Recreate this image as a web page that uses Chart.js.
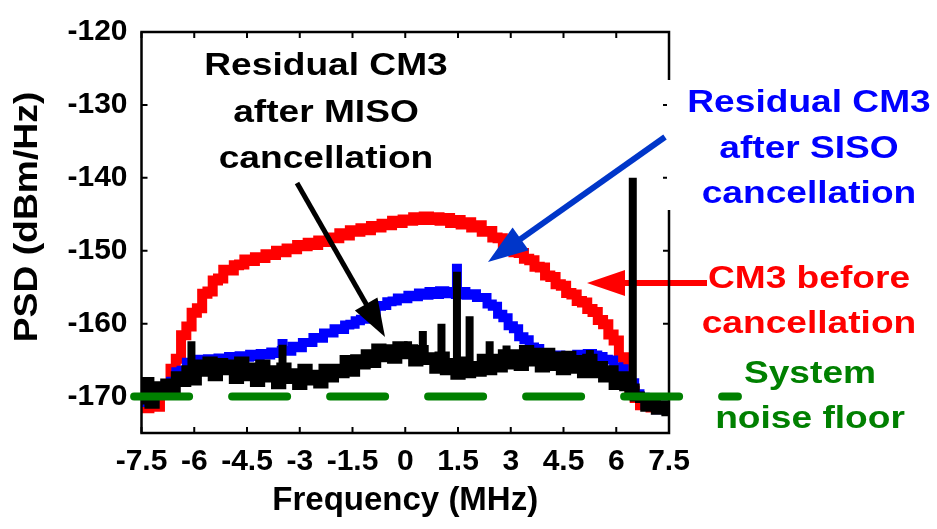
<!DOCTYPE html>
<html>
<head>
<meta charset="utf-8">
<script src="https://cdn.jsdelivr.net/npm/chart.js@4.4.1/dist/chart.umd.min.js"></script>
<style>
  html, body { margin: 0; padding: 0; background: #ffffff; }
  canvas { display: block; }
</style>
</head>
<body>
<canvas id="psd" width="937" height="529"></canvas>
<script>
// Frequency grid (MHz)
const freqMHz = [
  -7.5, -7.35, -7.2, -7.05, -6.9, -6.75, -6.6, -6.45, -6.3, -6.15,
  -6.0, -5.85, -5.7, -5.55, -5.4, -5.25, -5.1, -4.95, -4.8, -4.65,
  -4.5, -4.35, -4.2, -4.05, -3.9, -3.75, -3.6, -3.45, -3.3, -3.15,
  -3.0, -2.85, -2.7, -2.55, -2.4, -2.25, -2.1, -1.95, -1.8, -1.65,
  -1.5, -1.35, -1.2, -1.05, -0.9, -0.75, -0.6, -0.45, -0.3, -0.15,
  0.0, 0.15, 0.3, 0.45, 0.6, 0.75, 0.9, 1.05, 1.2, 1.35,
  1.5, 1.65, 1.8, 1.95, 2.1, 2.25, 2.4, 2.55, 2.7, 2.85,
  3.0, 3.15, 3.3, 3.45, 3.6, 3.75, 3.9, 4.05, 4.2, 4.35,
  4.5, 4.65, 4.8, 4.95, 5.1, 5.25, 5.4, 5.55, 5.7, 5.85,
  6.0, 6.15, 6.3, 6.45, 6.6, 6.75, 6.9, 7.05, 7.2, 7.35,
  7.5
];

// CM3 before cancellation (dBm/Hz)
const psdBefore = [
  -170.4, -171.6, -170.6, -171.4, -169.6, -168.9, -166.2, -164.8, -161.6, -160.4,
  -158.5, -157.9, -155.9, -155.6, -154.1, -153.8, -152.6, -152.7, -152.0, -151.9,
  -151.2, -151.4, -150.9, -151.0, -150.5, -150.6, -150.0, -150.2, -149.7, -149.8,
  -149.2, -149.4, -148.9, -149.2, -148.6, -148.8, -148.2, -148.3, -147.6, -147.9,
  -147.2, -147.4, -146.9, -147.2, -146.6, -146.8, -146.3, -146.5, -145.9, -146.2,
  -145.7, -145.9, -145.4, -145.8, -145.3, -145.8, -145.4, -145.9, -145.5, -146.2,
  -145.8, -146.4, -146.1, -146.8, -146.5, -147.4, -147.3, -148.2, -148.3, -149.2,
  -149.3, -150.2, -150.3, -151.1, -151.3, -152.2, -152.3, -153.4, -153.6, -154.6,
  -154.8, -155.8, -156.0, -156.9, -157.1, -158.0, -158.4, -159.5, -160.1, -161.5,
  -162.3, -164.6, -166.6, -169.2, -170.2, -171.2, -171.1, -171.5, -171.4, -171.7,
  -171.5
];

// Residual CM3 after SISO cancellation (dBm/Hz)
const psdSiso = [
  -170.8, -170.4, -170.3, -169.4, -169.5, -168.3, -167.9, -166.6, -166.4, -165.3,
  -165.5, -164.9, -165.2, -164.8, -165.1, -164.7, -164.9, -164.5, -164.8, -164.4,
  -164.6, -164.2, -164.5, -164.1, -164.3, -163.9, -164.1, -163.7, -163.8, -163.1,
  -163.3, -162.6, -162.6, -161.9, -162.0, -161.3, -161.3, -160.7, -160.8, -160.2,
  -160.1, -159.6, -159.4, -158.7, -158.4, -157.6, -157.5, -157.0, -156.9, -156.5,
  -156.6, -156.1, -156.3, -155.8, -156.1, -155.6, -156.0, -155.5, -155.9, -155.6,
  -156.0, -155.6, -156.1, -155.9, -156.4, -156.4, -157.3, -157.6, -158.7, -159.2,
  -160.3, -160.7, -161.8, -162.2, -163.2, -163.4, -164.1, -164.0, -164.6, -164.3,
  -164.7, -164.4, -164.6, -164.2, -164.4, -164.1, -164.3, -164.5, -164.9, -165.0,
  -165.9, -166.2, -167.5, -168.1, -169.6, -170.1, -171.1, -171.0, -171.8, -171.2,
  -171.9
];

// Residual CM3 after MISO cancellation (dBm/Hz)
const psdMiso = [
  -170.4, -168.0, -171.0, -168.6, -169.6, -168.2, -169.8, -167.2, -168.0, -166.4,
  -167.8, -165.6, -166.6, -165.2, -167.2, -165.4, -166.4, -165.6, -167.6, -165.2,
  -167.2, -166.0, -168.0, -165.6, -167.4, -166.4, -168.3, -166.0, -167.6, -166.8,
  -168.4, -166.2, -167.8, -167.0, -168.2, -166.2, -167.4, -166.2, -166.8, -165.0,
  -166.6, -164.9, -165.6, -164.2, -165.4, -163.4, -164.6, -163.5, -164.8, -163.1,
  -164.2, -163.5, -165.2, -163.6, -165.0, -164.6, -166.2, -164.5, -166.4, -165.4,
  -167.0, -165.2, -166.8, -165.8, -166.6, -164.8, -166.4, -164.8, -166.0, -164.2,
  -165.6, -164.2, -165.8, -163.6, -165.2, -164.0, -166.0, -164.0, -165.8, -164.5,
  -166.4, -164.4, -166.2, -165.0, -166.8, -164.8, -166.8, -165.8, -167.4, -166.4,
  -168.4, -167.2, -168.6, -168.9, -170.0, -170.2, -171.4, -170.6, -171.8, -171.2,
  -172.0
];

// Narrow spurs riding on the residual spectra
const sisoSpurFreq = [-3.49, 1.47];
const sisoSpurTop  = [-162.1, -151.8];
const sisoSpurBase = [-164.0, -156.0];
const misoSpurFreq = [-6.08, -3.49, 0.08, 0.50, 1.03, 1.47, 1.83, 2.40, 2.88, 5.25, 6.47];
const misoSpurTop  = [-162.4, -162.9, -162.4, -161.0, -160.0, -152.9, -159.0, -162.4, -163.0, -163.6, -140.0];
const misoSpurBase = [-167.0, -167.5, -164.5, -165.0, -165.5, -166.5, -166.5, -166.0, -165.5, -166.0, -169.0];

// System noise floor
const noiseFloorFreq = [-7.71, 9.46];
const noiseFloorLevel = -170;

// Axis ticks
const xTicks = [-7.5, -6, -4.5, -3, -1.5, 0, 1.5, 3, 4.5, 6, 7.5];
const yTicks = [-170, -160, -150, -140, -130, -120];

const FONT = '"Liberation Sans", Arial, Helvetica, sans-serif';

function points(xs, ys) {
  return xs.map((x, i) => ({ x: x, y: ys[i] }));
}

// vertical strokes from base to top, separated by gaps
function strokes(xs, lo, hi) {
  const out = [];
  xs.forEach((x, i) => {
    out.push({ x: x, y: lo[i] }, { x: x, y: hi[i] }, { x: x, y: null });
  });
  return out;
}

function drawArrow(ctx, x1, y1, x2, y2, color, lw, headLen, headHalf) {
  const ang = Math.atan2(y2 - y1, x2 - x1);
  const bx = x2 - headLen * Math.cos(ang);
  const by = y2 - headLen * Math.sin(ang);
  ctx.save();
  ctx.strokeStyle = color;
  ctx.fillStyle = color;
  ctx.lineWidth = lw;
  ctx.lineCap = 'butt';
  ctx.beginPath();
  ctx.moveTo(x1, y1);
  ctx.lineTo(bx + 2 * Math.cos(ang), by + 2 * Math.sin(ang));
  ctx.stroke();
  ctx.beginPath();
  ctx.moveTo(x2, y2);
  ctx.lineTo(bx + headHalf * Math.sin(ang), by - headHalf * Math.cos(ang));
  ctx.lineTo(bx - headHalf * Math.sin(ang), by + headHalf * Math.cos(ang));
  ctx.closePath();
  ctx.fill();
  ctx.restore();
}

function drawLabel(ctx, lines, cx, firstBaseline, step, color) {
  ctx.save();
  ctx.fillStyle = color;
  ctx.font = 'bold 32px ' + FONT;
  ctx.textAlign = 'center';
  ctx.textBaseline = 'alphabetic';
  lines.forEach((t, i) => {
    ctx.save();
    ctx.translate(cx, firstBaseline + i * step);
    ctx.scale(1.16, 1);
    ctx.fillText(t, 0, 0);
    ctx.restore();
  });
  ctx.restore();
}

// Box frame with inward tick marks, drawn just under the noise-floor line
const framePlugin = {
  id: 'frame',
  beforeDatasetDraw(chart, args) {
    const ctx = chart.ctx;
    const a = chart.chartArea;
    const xs = chart.scales.x, ys = chart.scales.y;
    if (args.index === 2) {
      // red pointer towards the un-cancelled CM3 curve
      drawArrow(ctx, 707, 283, 587, 283, '#ff0000', 6, 38, 13);
    }
    if (args.index !== 0) return;
    ctx.save();
    ctx.strokeStyle = '#000000';
    ctx.lineWidth = 2;
    ctx.beginPath();
    xTicks.forEach(v => {
      const px = xs.getPixelForValue(v);
      ctx.moveTo(px, a.bottom); ctx.lineTo(px, a.bottom - 6);
      ctx.moveTo(px, a.top); ctx.lineTo(px, a.top + 6);
    });
    yTicks.forEach(v => {
      const py = ys.getPixelForValue(v);
      ctx.moveTo(a.left, py); ctx.lineTo(a.left + 6, py);
      ctx.moveTo(a.right, py); ctx.lineTo(a.right - 6, py);
    });
    ctx.stroke();
    ctx.lineWidth = 2.5;
    ctx.strokeRect(a.left, a.top, a.right - a.left, a.bottom - a.top);
    // white backing of the SISO text box
    ctx.fillStyle = '#ffffff';
    ctx.fillRect(667, 80, 270, 130);
    ctx.restore();
  },
  afterDraw(chart) {
    const ctx = chart.ctx;
    // vertical axis title
    ctx.save();
    ctx.fillStyle = '#000000';
    ctx.font = 'bold 33px ' + FONT;
    ctx.textAlign = 'center';
    ctx.textBaseline = 'middle';
    ctx.translate(28, 217);
    ctx.rotate(-Math.PI / 2);
    ctx.scale(1.13, 1);
    ctx.fillText('PSD (dBm/Hz)', 0, 0);
    ctx.restore();

    drawLabel(ctx, ['Residual CM3', 'after MISO', 'cancellation'], 326, 75, 46.5, '#000000');
    drawLabel(ctx, ['Residual CM3', 'after SISO', 'cancellation'], 809, 112, 45.5, '#0000ff');
    drawLabel(ctx, ['CM3 before', 'cancellation'], 809, 288, 45, '#ff0000');
    drawLabel(ctx, ['System', 'noise floor'], 810, 383, 45, '#008000');
    drawArrow(ctx, 297, 183, 385, 337, '#000000', 5, 38, 13);
    drawArrow(ctx, 665, 137, 488, 262, '#0036c9', 6, 40, 14);
  }
};

Chart.defaults.font.family = FONT;
Chart.defaults.font.weight = 'bold';
Chart.defaults.color = '#000000';

new Chart(document.getElementById('psd'), {
  type: 'line',
  data: {
    datasets: [
      {
        label: 'System noise floor',
        data: points(noiseFloorFreq, noiseFloorFreq.map(() => noiseFloorLevel)),
        borderColor: '#008000',
        borderWidth: 8,
        borderDash: [55, 43],
        borderCapStyle: 'round',
        pointRadius: 0,
        fill: false,
        clip: false
      },
      {
        label: 'MISO spurs',
        data: strokes(misoSpurFreq, misoSpurBase, misoSpurTop),
        borderColor: '#000000',
        borderWidth: 8,
        borderCapStyle: 'butt',
        spanGaps: false,
        pointRadius: 0,
        fill: false
      },
      {
        label: 'Residual CM3 after MISO cancellation',
        data: points(freqMHz, psdMiso),
        borderColor: '#000000',
        borderWidth: 10,
        stepped: 'middle',
        pointRadius: 0,
        fill: false
      },
      {
        label: 'SISO spurs',
        data: strokes(sisoSpurFreq, sisoSpurBase, sisoSpurTop),
        borderColor: '#0000ff',
        borderWidth: 10,
        borderCapStyle: 'butt',
        spanGaps: false,
        pointRadius: 0,
        fill: false
      },
      {
        label: 'Residual CM3 after SISO cancellation',
        data: points(freqMHz, psdSiso),
        borderColor: '#0000ff',
        borderWidth: 9,
        stepped: 'middle',
        pointRadius: 0,
        fill: false
      },
      {
        label: 'CM3 before cancellation',
        data: points(freqMHz, psdBefore),
        borderColor: '#ff0000',
        borderWidth: 10,
        stepped: 'middle',
        pointRadius: 0,
        fill: false
      }
    ]
  },
  options: {
    responsive: false,
    animation: false,
    devicePixelRatio: 1,
    layout: { padding: { left: 0, top: 19, right: 268, bottom: 0 } },
    plugins: { legend: { display: false }, tooltip: { enabled: false } },
    scales: {
      x: {
        type: 'linear',
        min: -7.5,
        max: 7.5,
        offset: false,
        afterBuildTicks: s => { s.ticks = xTicks.map(v => ({ value: v })); },
        afterFit: s => { s.height = 96; },
        grid: { display: false, drawTicks: false, offset: false },
        border: { display: false },
        ticks: {
          padding: 11,
          maxRotation: 0,
          autoSkip: false,
          font: { size: 30, weight: 'bold' },
          color: '#000000',
          callback: v => String(v)
        },
        title: {
          display: true,
          text: 'Frequency (MHz)',
          font: { size: 33, weight: 'bold' },
          color: '#000000',
          padding: { top: 0, bottom: 8 }
        }
      },
      y: {
        type: 'linear',
        min: -175,
        max: -120,
        afterBuildTicks: s => { s.ticks = yTicks.map(v => ({ value: v })); },
        afterFit: s => { s.width = 141.5; },
        grid: { display: false, drawTicks: false },
        border: { display: false },
        ticks: {
          padding: 14,
          autoSkip: false,
          font: { size: 30, weight: 'bold' },
          color: '#000000',
          callback: v => String(v)
        },
        title: { display: false }
      }
    }
  },
  plugins: [framePlugin]
});
</script>
</body>
</html>
